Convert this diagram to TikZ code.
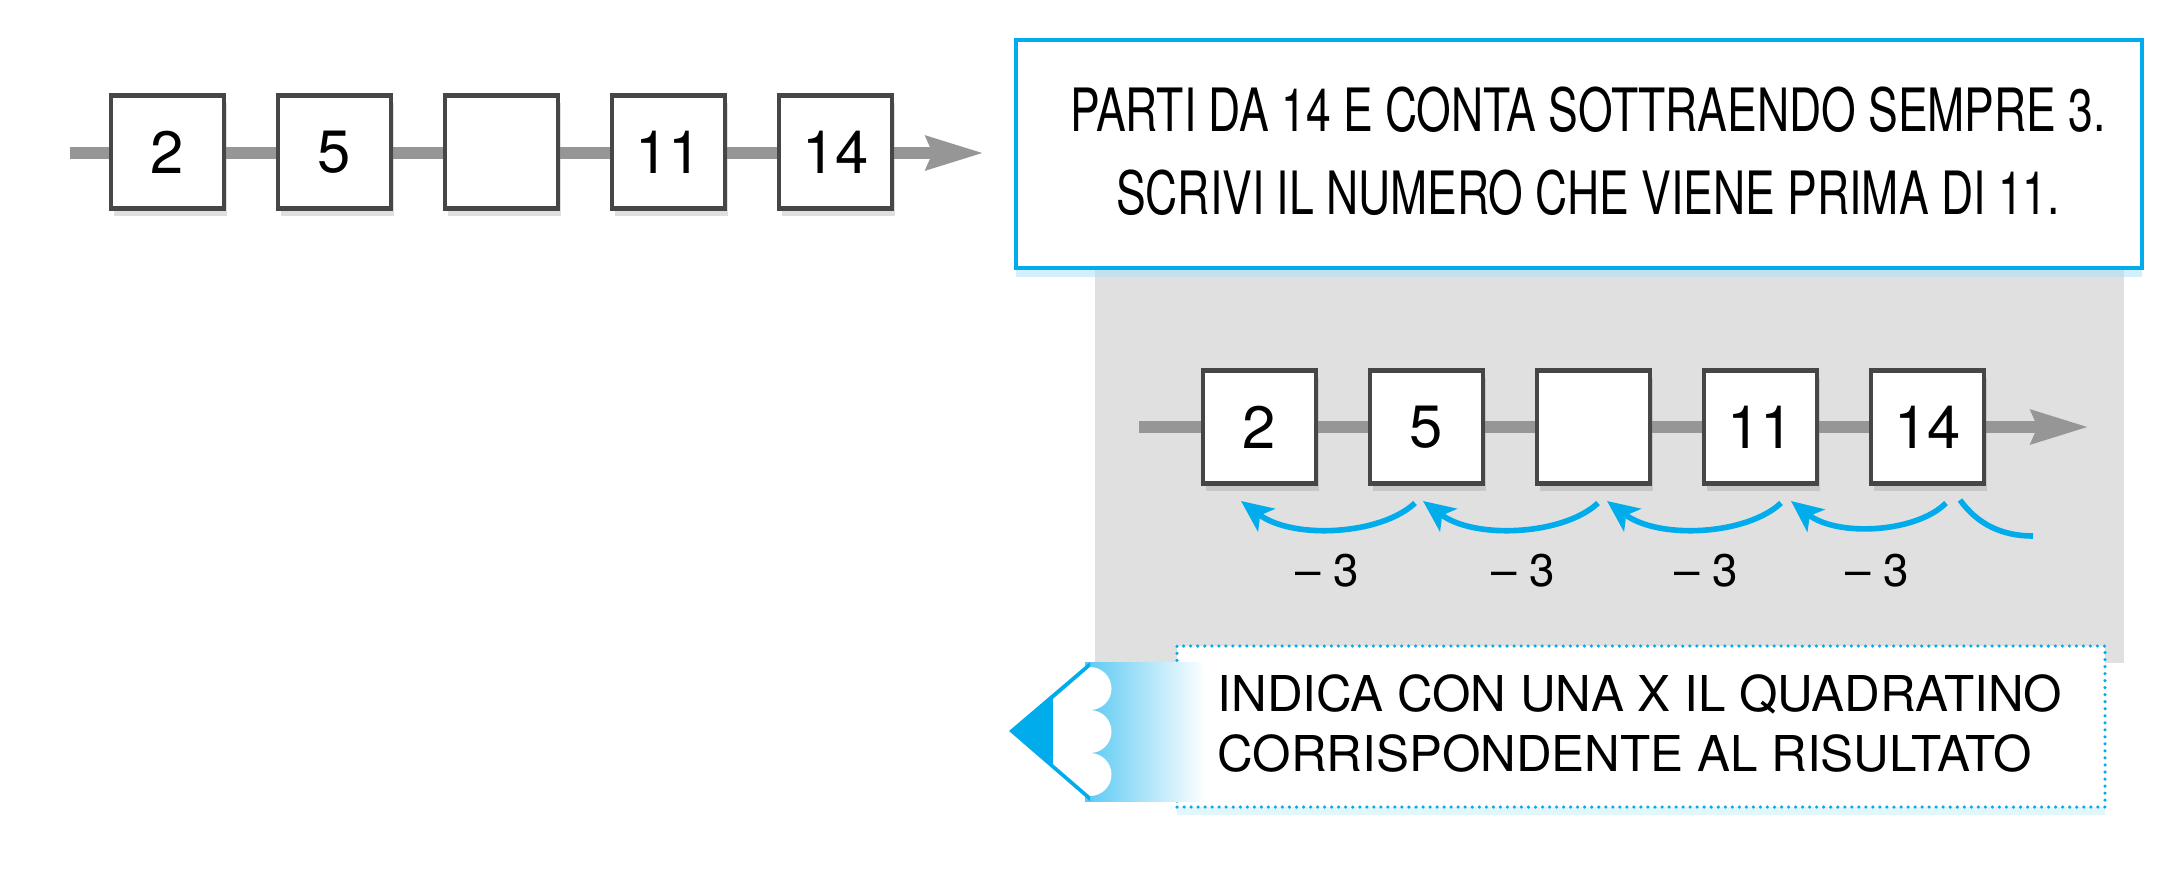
\documentclass[tikz,border=0pt]{standalone}
\usepackage{fontspec}
\setmainfont{TeX Gyre Heros}
\newfontfamily\condfont[FakeStretch=0.745]{TeX Gyre Heros}
\usepackage{tikz}
\usetikzlibrary{arrows.meta,shadows}
\definecolor{pencilblue}{RGB}{0,172,236}
\definecolor{linegray}{RGB}{150,150,150}
\definecolor{boxedge}{RGB}{70,70,70}
\definecolor{panelgray}{RGB}{224,224,224}

\begin{document}
\begin{tikzpicture}[x=0.1mm,y=-0.1mm,
  numbox/.style={draw=boxedge,line width=1.2pt,fill=white,minimum size=11.3mm,inner sep=0pt,
    font=\fontsize{17}{20}\selectfont,drop shadow={shadow xshift=0.3mm,shadow yshift=-0.7mm,opacity=0.25}},
  track/.style={linegray,line width=3.5pt,-{Stealth[length=16.2pt,width=9.2pt,inset=1.6pt]}},
  hop/.style={pencilblue,line width=1.6pt,-{Stealth[length=9pt,width=8pt,inset=2.2pt]}},
  hoplabel/.style={font=\fontsize{13}{15}\selectfont,inner sep=0pt}]

\useasboundingbox (0,0) rectangle (2183,876);

\coordinate (a0) at (70,153);
\coordinate (a1) at (984,153);
\draw[track] (a0) -- (a1);
\node[numbox] (a2) at (167.5,152) {2};
\node[numbox] (a5) at (334.5,152) {5};
\node[numbox] (a8) at (501.5,152) {};
\node[numbox] (a11) at (668.5,152) {11};
\node[numbox] (a14) at (835.5,152) {14};

\fill[panelgray] (1095,250) rectangle (2124,663);

\node[draw=pencilblue,line width=1.15pt,fill=white,minimum width=112.6mm,minimum height=22.8mm,
  drop shadow={shadow xshift=0mm,shadow yshift=-0.9mm,fill=pencilblue!35,opacity=0.5}] (task) at (1579,154) {};
\node[font=\condfont\fontsize{17}{23.6}\selectfont,align=center,inner sep=0pt] (tasktext) at (1588,151)
  {PARTI DA 14 E CONTA SOTTRAENDO SEMPRE 3.\\SCRIVI IL NUMERO CHE VIENE PRIMA DI 11.};

\coordinate (b0) at (1139,427);
\coordinate (b1) at (2089,427);
\draw[track] (b0) -- (b1);
\node[numbox] (b2) at (1259.5,427) {2};
\node[numbox] (b5) at (1426.5,427) {5};
\node[numbox] (b8) at (1593.5,427) {};
\node[numbox] (b11) at (1760.5,427) {11};
\node[numbox] (b14) at (1927.5,427) {14};

\coordinate (h1) at (1241,501);
\coordinate (h2) at (1423,501);
\coordinate (h3) at (1607,501);
\coordinate (h4) at (1791,501);
\coordinate (s1) at (1415,503);
\coordinate (s2) at (1598,503);
\coordinate (s3) at (1781,503);
\coordinate (s4) at (1946,503);
\coordinate (s5) at (1960,500);
\coordinate (e5) at (2033,536);
\draw[hop] (s1) .. controls +(-34,32) and +(52,39) .. (h1);
\draw[hop] (s2) .. controls +(-34,32) and +(52,39) .. (h2);
\draw[hop] (s3) .. controls +(-34,32) and +(52,39) .. (h3);
\draw[hop] (s4) .. controls +(-30,30) and +(46,36) .. (h4);
\draw[pencilblue,line width=1.6pt] (s5) .. controls +(18,25) and +(-30,0) .. (e5);

\node[hoplabel] (m1) at (1327,571) {– 3};
\node[hoplabel] (m2) at (1523,571) {– 3};
\node[hoplabel] (m3) at (1706,571) {– 3};
\node[hoplabel] (m4) at (1877,571) {– 3};

\node[draw=pencilblue,line width=1pt,dash pattern=on 0pt off 2pt,line cap=round,fill=white,
  minimum width=92.8mm,minimum height=16.1mm,
  drop shadow={shadow xshift=0mm,shadow yshift=-0.8mm,fill=pencilblue!25,opacity=0.45}] (hint) at (1641,726.5) {};

\shade[left color=pencilblue!65,right color=white] (1085,662) rectangle (1205,801);
\fill[pencilblue] (1009,731) -- (1090,662) -- (1090,801) -- cycle;
\fill[white] (1053,699) -- (1090,667) arc[start angle=-90,end angle=90,radius=21.5]
  arc[start angle=-90,end angle=90,radius=21.5] arc[start angle=-90,end angle=90,radius=21.5]
  -- (1053,764) -- cycle;

\node[anchor=north west,inner sep=0pt,align=left,font=\fontsize{14.05}{17.1}\selectfont] (hinttext) at (1217,674)
  {INDICA CON UNA X IL QUADRATINO\\CORRISPONDENTE AL RISULTATO};

\end{tikzpicture}
\end{document}
